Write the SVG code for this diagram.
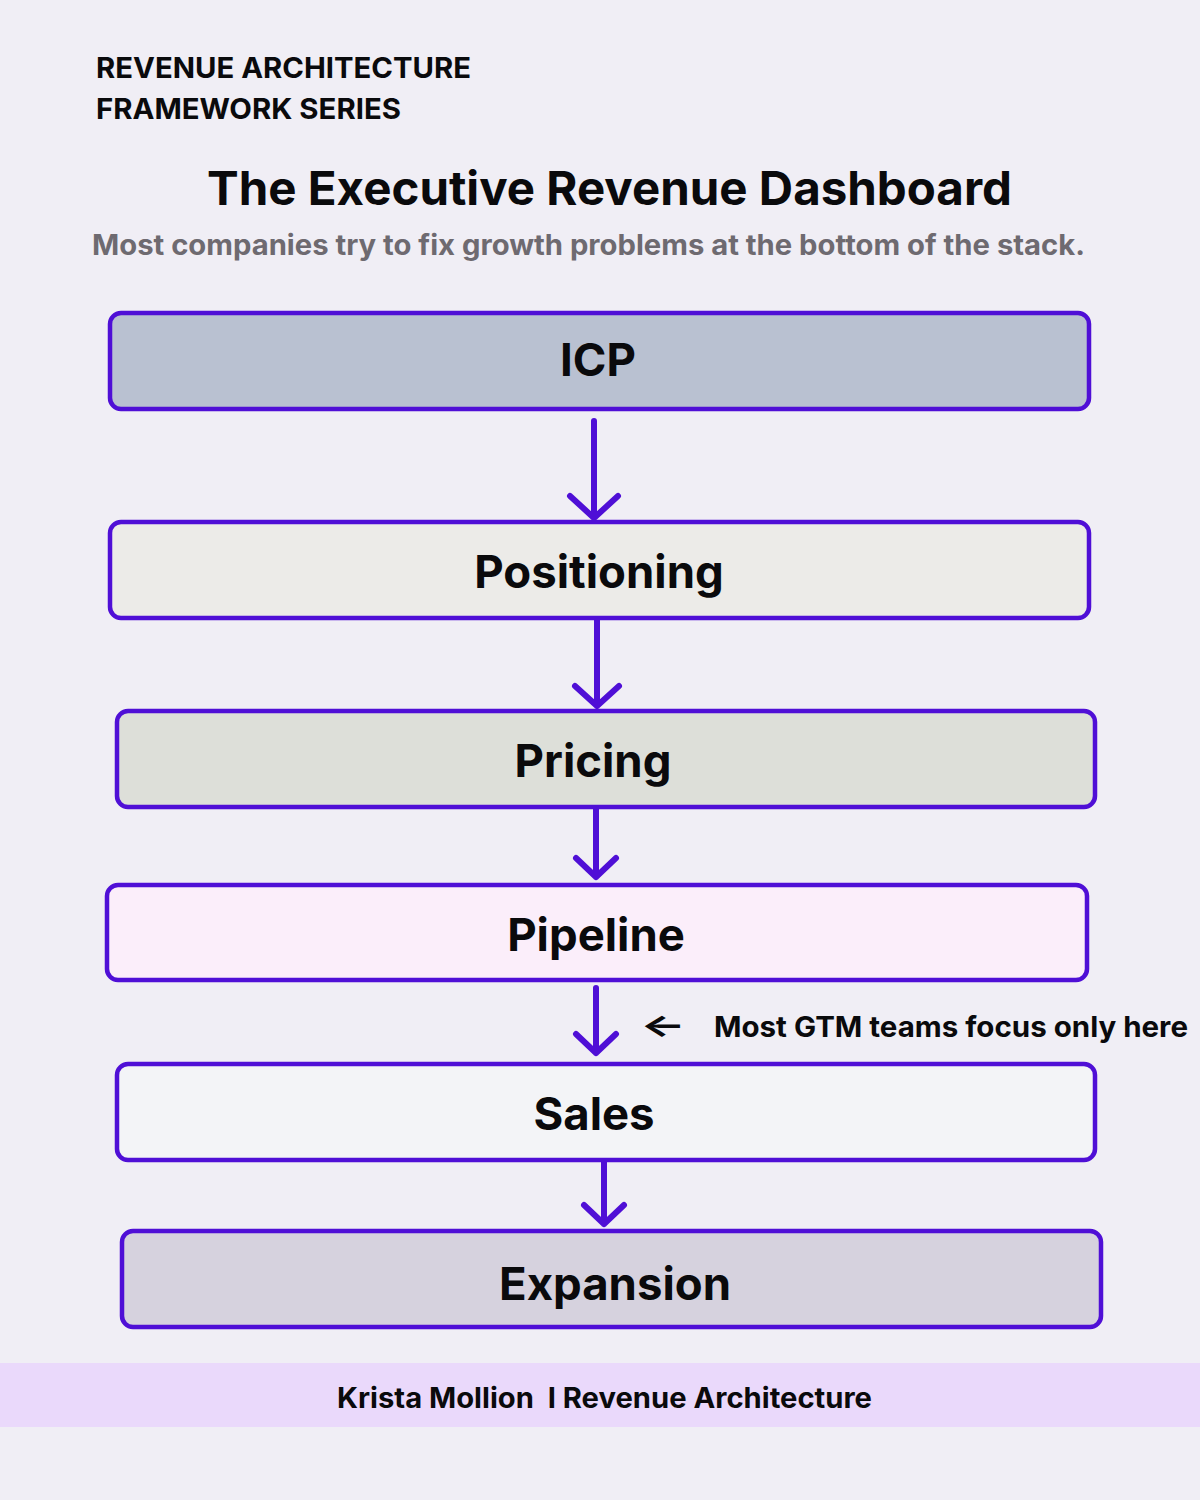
<svg xmlns="http://www.w3.org/2000/svg" width="1200" height="1500" viewBox="0 0 1200 1500">
<style>
.t{font-family:Inter,"Liberation Sans",Arial,sans-serif;font-weight:700;fill:#0a0a0c}
.box{stroke:#4f0fd6;stroke-width:4.5}
.lbl{font-size:45.5px;text-anchor:middle}
.arr{stroke:#4f0fd6;stroke-width:6;stroke-linecap:round;stroke-linejoin:round;fill:none}
</style>
<rect width="1200" height="1500" fill="#f0eef5"/>
<g id="header">
<text class="t" x="96" y="78" font-size="28.5" textLength="375" lengthAdjust="spacingAndGlyphs">REVENUE ARCHITECTURE</text>
<text class="t" x="96" y="119" font-size="28.5" textLength="305" lengthAdjust="spacingAndGlyphs">FRAMEWORK SERIES</text>
<text class="t" x="207" y="205" font-size="47" textLength="805" lengthAdjust="spacingAndGlyphs">The Executive Revenue Dashboard</text>
<text class="t" x="92" y="255" font-size="28" textLength="993" lengthAdjust="spacingAndGlyphs" style="fill:#6e6a70">Most companies try to fix growth problems at the bottom of the stack.</text>
</g>
<g id="connectors">
<path class="arr" d="M594 421V518M570 496L594 518L618 496"/>
<path class="arr" d="M597 618V706M575 686L597 706L619 686"/>
<path class="arr" d="M596 807V877M576 858L596 877L616 858"/>
<path class="arr" d="M596 988V1053M576 1034L596 1053L616 1034"/>
<path class="arr" d="M604 1152V1224M584 1205L604 1224L624 1205"/>
</g>
<g id="icp"><rect class="box" x="110" y="313" width="979" height="96" rx="11" fill="#b9c1d1"/><text class="t lbl" x="598" y="376">ICP</text></g>
<g id="positioning"><rect class="box" x="110" y="522" width="979" height="96" rx="11" fill="#ecebe8"/><text class="t lbl" x="599" y="588">Positioning</text></g>
<g id="pricing"><rect class="box" x="117" y="711" width="978" height="96" rx="11" fill="#dddfd9"/><text class="t lbl" x="593" y="777">Pricing</text></g>
<g id="pipeline"><rect class="box" x="107" y="885" width="980" height="95" rx="11" fill="#fbeefa"/><text class="t lbl" x="596" y="951">Pipeline</text></g>
<g id="sales"><rect class="box" x="117" y="1064" width="978" height="96" rx="11" fill="#f3f4f7"/><text class="t lbl" x="594" y="1130">Sales</text></g>
<g id="expansion"><rect class="box" x="122" y="1231" width="979" height="96" rx="11" fill="#d6d2de"/><text class="t lbl" x="615" y="1300">Expansion</text></g>
<g id="annotation">
<text class="t" x="640" y="1036" font-size="30" textLength="46" lengthAdjust="spacingAndGlyphs">←</text>
<text class="t" x="714" y="1037" font-size="28.5" textLength="474" lengthAdjust="spacingAndGlyphs">Most GTM teams focus only here</text>
</g>
<g id="footer">
<rect x="0" y="1363" width="1200" height="64" fill="#ead9fb"/>
<text class="t" x="337" y="1408" font-size="28" textLength="535" lengthAdjust="spacingAndGlyphs" xml:space="preserve">Krista Mollion  I Revenue Architecture</text>
</g>
</svg>
